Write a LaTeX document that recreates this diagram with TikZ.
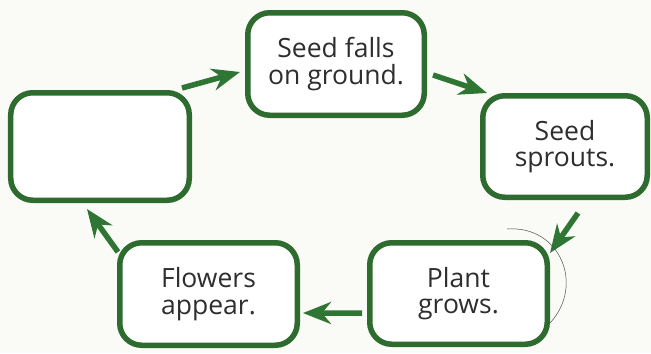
\documentclass[tikz,border=0pt]{standalone}
\usepackage{fontspec}
\setmainfont{Open Sans}
\usetikzlibrary{arrows.meta,calc}
\definecolor{boxgreen}{HTML}{2E6B2F}
\definecolor{arrgreen}{HTML}{2F7534}
\definecolor{txt}{HTML}{2E2E2E}
\definecolor{bg}{HTML}{FAFAF7}
\tikzset{
  stage/.style={draw=boxgreen, line width=5.5bp, rounded corners=22bp, fill=white,
    inner sep=0pt, align=center, text=txt,
    font=\fontsize{26.5bp}{26.5bp}\selectfont},
  flowarrow/.style={draw=arrgreen, line width=5.5bp,
    -{Stealth[length=28bp, width=22bp, inset=9bp]}}
}
\begin{document}
\begin{tikzpicture}[x=1bp, y=-1bp]
\fill[bg] (0,0) rectangle (651,353);
\useasboundingbox (0,0) rectangle (651,353);
\node[stage, minimum width=176.5bp, minimum height=102.5bp] (top) at (336,64) {Seed falls\\on ground.};
\node[stage, minimum width=164.5bp, minimum height=101.5bp] (right) at (565,146.5) {Seed\\sprouts.};
\node[stage, minimum width=177.5bp, minimum height=101.5bp] (plant) at (458.5,293.5) {Plant\\grows.};
\node[stage, minimum width=177.5bp, minimum height=102.5bp] (flowers) at (208.5,294) {Flowers\\appear.};
\node[stage, minimum width=178.5bp, minimum height=107.5bp] (left) at (100,146.5) {};
\draw[flowarrow] ($(left.north east)+(-10,-2)$) -- ($(top.west)+(-5,8)$);
\draw[flowarrow] ($(top.east)+(6,11)$) -- ($(right.north west)+(7,0)$);
\draw[flowarrow] ($(right.south)+(13,13)$) -- ($(plant.north east)+(0,13)$);
\draw[flowarrow] ($(plant.west)+(-5,19.5)$) -- ($(flowers.east)+(3,19)$);
\draw[flowarrow] ($(flowers.north west)+(1,12)$) -- ($(left.south)+(-13,6)$);
\draw[black!70, line width=0.5bp] (507,229) .. controls (560,225) and (585,285) .. (550,323);
\end{tikzpicture}
\end{document}
